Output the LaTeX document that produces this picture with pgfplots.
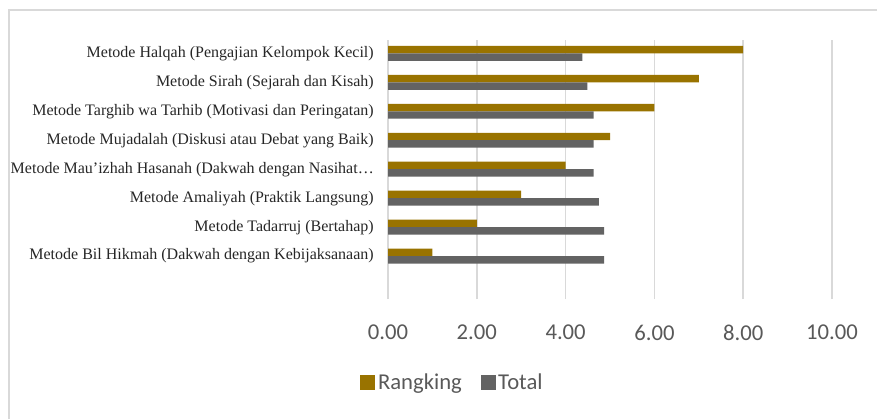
\documentclass[border=0pt]{standalone}
\usepackage{fontspec}
\setmainfont{Liberation Serif}
\newfontfamily\carlito{Carlito}
\usepackage{pgfplots}
\pgfplotsset{compat=1.18}
\definecolor{rank}{HTML}{997300}
\definecolor{tot}{HTML}{636363}
\definecolor{gridc}{HTML}{D9D9D9}
\definecolor{tickc}{HTML}{595959}
\definecolor{labc}{HTML}{262626}
\begin{document}
\begin{tikzpicture}
\path[use as bounding box] (0,0) rectangle (657.75pt,314.25pt);
\draw[gridc, line width=1.2pt] (6.75pt,0) -- (6.75pt,306.75pt) -- (657.75pt,306.75pt);
\begin{axis}[
  at={(291pt,90pt)}, anchor=south west,
  scale only axis, width=333pt, height=194.25pt,
  xmin=0, xmax=10, ymin=-1.48, ymax=7.46,
  axis line style={draw=none},
  xmajorgrids, grid style={gridc, line width=1.1pt},
  xtick={0,2,4,6,8,10},
  ytick={0,1,2,3,4,5,6,7},
  yticklabels={
    {Metode Bil Hikmah (Dakwah dengan Kebijaksanaan)},
    {Metode Tadarruj (Bertahap)},
    {Metode Amaliyah (Praktik Langsung)},
    {Metode Mau’izhah Hasanah (Dakwah dengan Nasihat…},
    {Metode Mujadalah (Diskusi atau Debat yang Baik)},
    {Metode Targhib wa Tarhib (Motivasi dan Peringatan)},
    {Metode Sirah (Sejarah dan Kisah)},
    {Metode Halqah (Pengajian Kelompok Kecil)}},
  major tick length=0pt,
  yticklabel style={font=\fontsize{12}{14}\selectfont, text=labc, anchor=east, inner sep=0pt, xshift=-10.5pt},
  xticklabel style={font=\carlito\fontsize{17}{20}\selectfont, text=tickc, anchor=north, inner sep=0pt, yshift=-19.5pt},
  /pgf/number format/.cd, fixed, fixed zerofill, precision=2, assume math mode=true, /pgfplots/.cd,
  xbar, bar width=5.6pt,
  legend columns=2,
  legend style={draw=none, fill=none, at={(0.146,-0.324)}, anchor=center,
    font=\carlito\fontsize{17}{20}\selectfont, text=tickc,
    /tikz/every even column/.append style={column sep=12pt}},
  legend image code/.code={\fill[#1] (0pt,-5.6pt) rectangle (11.25pt,5.6pt);},
]
\addplot[fill=rank, draw=none, bar shift=2.8pt] coordinates {
  (1,0) (2,1) (3,2) (4,3) (5,4) (6,5) (7,6) (8,7)};
\addplot[fill=tot, draw=none, bar shift=-2.8pt] coordinates {
  (4.87,0) (4.87,1) (4.75,2) (4.63,3) (4.63,4) (4.63,5) (4.49,6) (4.38,7)};
\legend{Rangking, Total}
\end{axis}
\end{tikzpicture}
\end{document}
